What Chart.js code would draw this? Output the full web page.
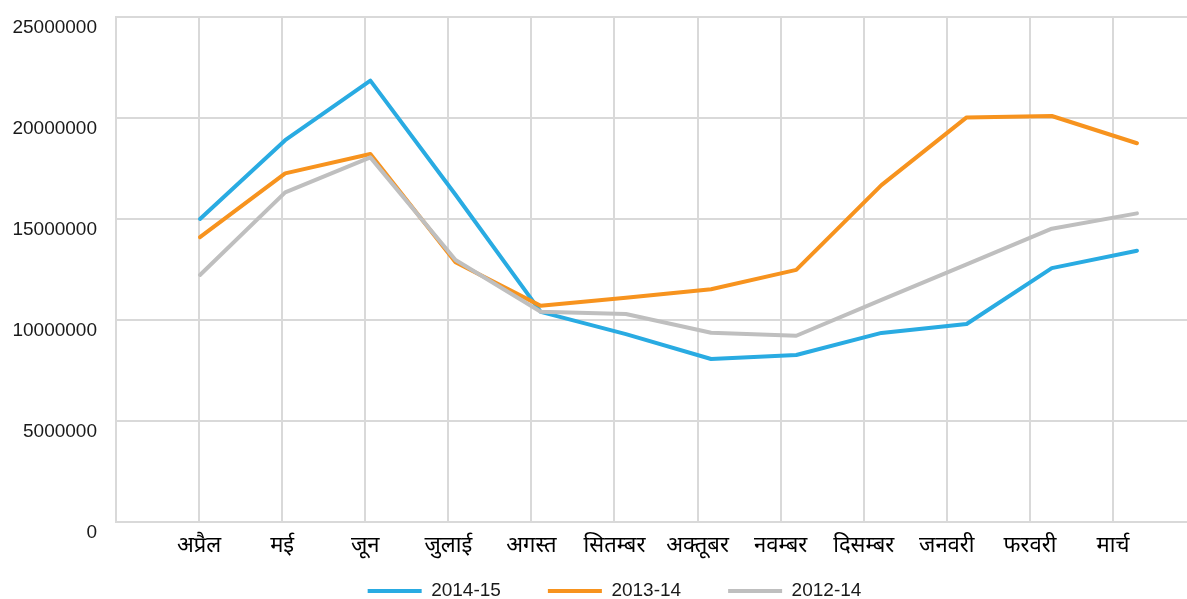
<!DOCTYPE html>
<html>
<head>
<meta charset="utf-8">
<title>मासिक तुलना</title>
<script src="https://cdn.jsdelivr.net/npm/chart.js@4/dist/chart.umd.min.js"></script>
<style>
  html, body { margin: 0; padding: 0; background: #ffffff; }
  #wrap { width: 1187px; height: 599px; }
</style>
</head>
<body>
<div id="wrap"><canvas id="chart" width="1187" height="599"></canvas></div>
<script>
// Months of the financial year (April to March)
const months = ['अप्रैल', 'मई', 'जून', 'जुलाई', 'अगस्त', 'सितम्बर', 'अक्तूबर', 'नवम्बर', 'दिसम्बर', 'जनवरी', 'फरवरी', 'मार्च'];

// Series names
const seriesNames = ['2014-15', '2013-14', '2012-14'];

// Monthly values per year
const values2014_15 = [15000000, 18900000, 21850000, 16200000, 10400000, 9300000, 8070000, 8270000, 9360000, 9800000, 12570000, 13430000];
const values2013_14 = [14100000, 17260000, 18220000, 12860000, 10700000, 11100000, 11520000, 12480000, 16680000, 20030000, 20100000, 18750000];
const values2012_14 = [12230000, 16320000, 18050000, 12970000, 10410000, 10300000, 9370000, 9220000, 11000000, 12750000, 14520000, 15280000];

// Value axis ticks
const yTicks = [0, 5000000, 10000000, 15000000, 20000000, 25000000];

const seriesColors = ['#29abe2', '#f7931e', '#bfbfbf'];

// Layout of the plot: data points and month grid use slightly different spacings
const PLOT_WIDTH = 1071;
const POINT_STEP = 85.18;   // px between consecutive data points
const FIRST_POINT = 84;     // px from the left edge of the plot to the first point
const GRID_STEP = 83.08;    // px between vertical grid lines

// Legend placement (centred between x = 42 and the right edge)
const LEGEND_LEFT = 42;
const LEGEND_TOP = 534.5;

const FONT = "'Liberation Sans', Arial, Helvetica, 'Noto Sans', sans-serif";
const TEXT = '#1a1a1a';
const GRID = '#d9d9d9';

function toPoints(arr) {
  return arr.map((v, i) => ({ x: i, y: v }));
}

const allSeries = [values2014_15, values2013_14, values2012_14];

const datasets = allSeries.map((vals, k) => ({
  label: seriesNames[k],
  data: toPoints(vals),
  xAxisID: 'xd',
  yAxisID: 'y',
  borderColor: seriesColors[k],
  backgroundColor: seriesColors[k],
  borderWidth: 4,
  borderCapStyle: 'round',
  borderJoinStyle: 'round',
  pointRadius: 0,
  pointHoverRadius: 0,
  tension: 0,
  fill: false,
  order: 3 - k
}));

const xdMin = -FIRST_POINT / POINT_STEP;

// Moves the legend box after layout so its row sits just above the bottom edge
const legendPlacement = {
  id: 'legendPlacement',
  afterLayout(chart) {
    const lg = chart.legend;
    if (!lg) return;
    lg.left = LEGEND_LEFT;
    lg.top = LEGEND_TOP;
    lg.bottom = chart.height;
    lg.height = lg.bottom - lg.top;
    lg.width = lg.right - lg.left;
  }
};

new Chart(document.getElementById('chart'), {
  type: 'line',
  data: { datasets },
  plugins: [legendPlacement],
  options: {
    responsive: false,
    animation: false,
    devicePixelRatio: 1,
    layout: { padding: { left: 0, right: 0, top: 17, bottom: 0 } },
    plugins: {
      tooltip: { enabled: false },
      legend: {
        position: 'bottom',
        maxHeight: 29,
        labels: {
          usePointStyle: true,
          pointStyle: 'line',
          pointStyleWidth: 54,
          padding: 47,
          color: TEXT,
          font: { family: FONT, size: 19 },
          sort: (a, b) => a.datasetIndex - b.datasetIndex
        }
      }
    },
    scales: {
      x: {
        type: 'linear',
        position: 'bottom',
        min: 0,
        max: PLOT_WIDTH / GRID_STEP,
        afterBuildTicks: (s) => {
          s.ticks = [0].concat(months.map((_, i) => i + 1)).map(v => ({ value: v }));
        },
        afterFit: (s) => { s.height = 48; s.paddingLeft = 0; s.paddingRight = 0; },
        grid: { color: GRID, lineWidth: 2, drawTicks: false },
        border: { color: GRID, width: 2 },
        ticks: {
          autoSkip: false,
          maxRotation: 0,
          padding: 11,
          color: '#000000',
          font: { family: FONT, size: 22 },
          callback: (v) => (v >= 1 ? months[v - 1] : '')
        }
      },
      xd: {
        type: 'linear',
        display: false,
        min: xdMin,
        max: xdMin + PLOT_WIDTH / POINT_STEP
      },
      y: {
        type: 'linear',
        position: 'left',
        min: 0,
        max: 25000000,
        afterBuildTicks: (s) => { s.ticks = yTicks.map(v => ({ value: v })); },
        afterFit: (s) => { s.width = 116; s.paddingTop = 0; s.paddingBottom = 0; },
        grid: { color: GRID, lineWidth: 2, drawTicks: false },
        border: { color: GRID, width: 2 },
        ticks: {
          padding: 19,
          labelOffset: 11,
          color: TEXT,
          font: { family: FONT, size: 19 },
          callback: (v) => String(v)
        }
      }
    }
  }
});
</script>
</body>
</html>
